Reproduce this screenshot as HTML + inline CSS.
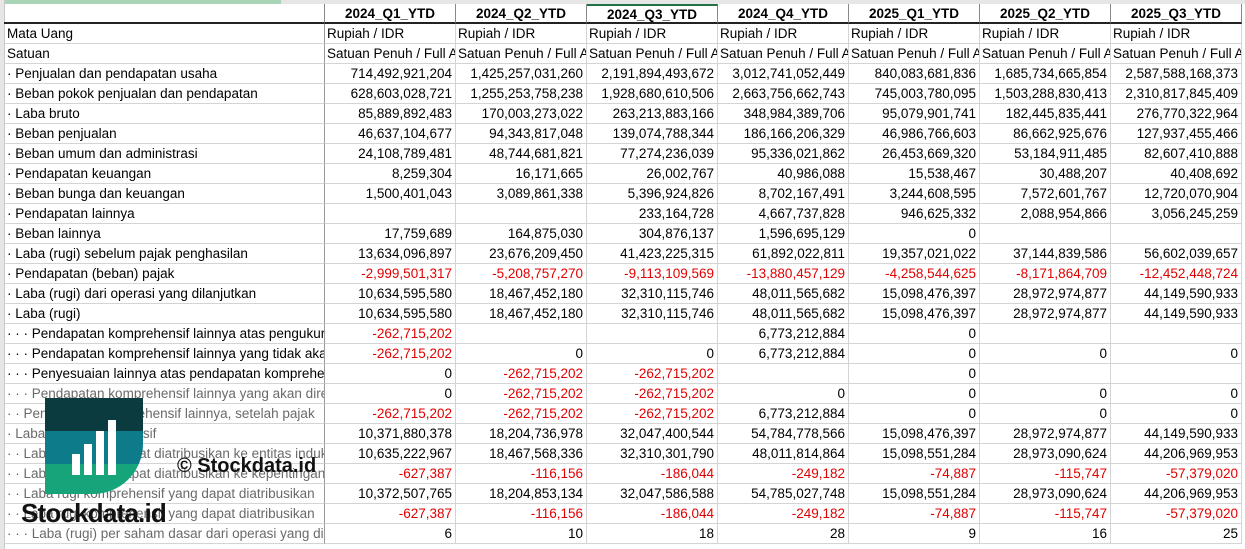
<!DOCTYPE html>
<html><head><meta charset="utf-8">
<style>
body{margin:0;width:1245px;height:549px;overflow:hidden;background:#fff;font-family:"Liberation Sans",Arial,sans-serif;font-size:13.5px;color:#000;position:relative}
.c{position:absolute;height:20px;line-height:20px;box-sizing:border-box;border-right:1px solid #d4d4d4;border-bottom:1px solid #d4d4d4;white-space:nowrap;overflow:hidden;padding:0 3px}
.n{text-align:right}
.neg{color:#e00000}
.h{font-weight:bold;text-align:center;border-right:1px solid #888;border-bottom:2px solid #222}
</style></head><body>
<div style="position:absolute;left:0;top:0;width:1245px;height:4px;background:#e6e6e6"></div>
<div style="position:absolute;left:0;top:0;width:281px;height:4px;background:#a9d5b6"></div>
<div style="position:absolute;left:0;top:0;width:4px;height:549px;background:#e6e6e6;border-right:1px solid #c8c8c8"></div>
<div id="grid"></div>
<div style="position:absolute;left:45px;top:398px;width:98px;height:96px;border-radius:0 0 50px 0;overflow:hidden">
<div style="height:33px;background:#0b3b3f"></div><div style="height:33px;background:#0d7b8a"></div><div style="height:30px;background:#16a57b"></div>
<div style="position:absolute;left:27px;top:56px;width:8px;height:21px;background:#fff"></div>
<div style="position:absolute;left:39px;top:46px;width:8px;height:31px;background:#fff"></div>
<div style="position:absolute;left:51px;top:33px;width:8px;height:44px;background:#fff"></div>
<div style="position:absolute;left:63px;top:22px;width:8px;height:55px;background:#fff"></div>
</div>
<div style="position:absolute;left:21px;top:498px;font-size:26px;font-weight:bold;letter-spacing:-0.8px;color:#111">Stockdata.id</div>
<div style="position:absolute;left:177px;top:455px;font-size:20px;font-weight:bold;color:#111">© Stockdata.id</div>
<script>
const cols=["2024_Q1_YTD","2024_Q2_YTD","2024_Q3_YTD","2024_Q4_YTD","2025_Q1_YTD","2025_Q2_YTD","2025_Q3_YTD"];
const rows=[
["Mata Uang",Array(7).fill("Rupiah / IDR"),"t"],
["Satuan",Array(7).fill("Satuan Penuh / Full Amount"),"t"],
["· Penjualan dan pendapatan usaha",["714,492,921,204","1,425,257,031,260","2,191,894,493,672","3,012,741,052,449","840,083,681,836","1,685,734,665,854","2,587,588,168,373"]],
["· Beban pokok penjualan dan pendapatan",["628,603,028,721","1,255,253,758,238","1,928,680,610,506","2,663,756,662,743","745,003,780,095","1,503,288,830,413","2,310,817,845,409"]],
["· Laba bruto",["85,889,892,483","170,003,273,022","263,213,883,166","348,984,389,706","95,079,901,741","182,445,835,441","276,770,322,964"]],
["· Beban penjualan",["46,637,104,677","94,343,817,048","139,074,788,344","186,166,206,329","46,986,766,603","86,662,925,676","127,937,455,466"]],
["· Beban umum dan administrasi",["24,108,789,481","48,744,681,821","77,274,236,039","95,336,021,862","26,453,669,320","53,184,911,485","82,607,410,888"]],
["· Pendapatan keuangan",["8,259,304","16,171,665","26,002,767","40,986,088","15,538,467","30,488,207","40,408,692"]],
["· Beban bunga dan keuangan",["1,500,401,043","3,089,861,338","5,396,924,826","8,702,167,491","3,244,608,595","7,572,601,767","12,720,070,904"]],
["· Pendapatan lainnya",["","","233,164,728","4,667,737,828","946,625,332","2,088,954,866","3,056,245,259"]],
["· Beban lainnya",["17,759,689","164,875,030","304,876,137","1,596,695,129","0","",""]],
["· Laba (rugi) sebelum pajak penghasilan",["13,634,096,897","23,676,209,450","41,423,225,315","61,892,022,811","19,357,021,022","37,144,839,586","56,602,039,657"]],
["· Pendapatan (beban) pajak",["-2,999,501,317","-5,208,757,270","-9,113,109,569","-13,880,457,129","-4,258,544,625","-8,171,864,709","-12,452,448,724"]],
["· Laba (rugi) dari operasi yang dilanjutkan",["10,634,595,580","18,467,452,180","32,310,115,746","48,011,565,682","15,098,476,397","28,972,974,877","44,149,590,933"]],
["· Laba (rugi)",["10,634,595,580","18,467,452,180","32,310,115,746","48,011,565,682","15,098,476,397","28,972,974,877","44,149,590,933"]],
["· · · Pendapatan komprehensif lainnya atas pengukuran kembali",["-262,715,202","","","6,773,212,884","0","",""]],
["· · · Pendapatan komprehensif lainnya yang tidak akan direklasifikasi",["-262,715,202","0","0","6,773,212,884","0","0","0"]],
["· · · Penyesuaian lainnya atas pendapatan komprehensif",["0","-262,715,202","-262,715,202","","0","",""]],
["· · · Pendapatan komprehensif lainnya yang akan direklasifikasi",["0","-262,715,202","-262,715,202","0","0","0","0"],"g"],
["· · Pendapatan komprehensif lainnya, setelah pajak",["-262,715,202","-262,715,202","-262,715,202","6,773,212,884","0","0","0"],"g"],
["· Laba rugi komprehensif",["10,371,880,378","18,204,736,978","32,047,400,544","54,784,778,566","15,098,476,397","28,972,974,877","44,149,590,933"],"g"],
["· · Laba rugi yang dapat diatribusikan ke entitas induk",["10,635,222,967","18,467,568,336","32,310,301,790","48,011,814,864","15,098,551,284","28,973,090,624","44,206,969,953"],"g"],
["· · Laba rugi yang dapat diatribusikan ke kepentingan",["-627,387","-116,156","-186,044","-249,182","-74,887","-115,747","-57,379,020"],"g"],
["· · Laba rugi komprehensif yang dapat diatribusikan",["10,372,507,765","18,204,853,134","32,047,586,588","54,785,027,748","15,098,551,284","28,973,090,624","44,206,969,953"],"g"],
["· · Laba rugi komprehensif yang dapat diatribusikan",["-627,387","-116,156","-186,044","-249,182","-74,887","-115,747","-57,379,020"],"g"],
["· · · Laba (rugi) per saham dasar dari operasi yang dilanjutkan",["6","10","18","28","9","16","25"],"g"]
];
const g=document.getElementById('grid');
function cell(x,y,w,txt,cls){const d=document.createElement('div');d.className='c '+cls;d.style.left=x+'px';d.style.top=y+'px';d.style.width=w+'px';d.textContent=txt;g.appendChild(d);return d;}
const L=4,LW=321,CW=131,top0=4;
let e=cell(L,top0,LW,'','h');e.style.borderRight='1px solid #888';


cols.forEach((c,i)=>{const d=cell(L+LW+i*CW,top0,CW,c,'h');


if(i==2){d.style.borderTop='2px solid #217346';d.style.lineHeight='17px';}});
rows.forEach((r,ri)=>{const y=top0+20+ri*20;
const lab=cell(L,y,LW,r[0],'');
lab.style.borderRight='1px solid #999';
if(r[2]=='g')lab.style.color='#6a6a6a';


r[1].forEach((v,ci)=>{const neg=v.startsWith('-');const d=cell(L+LW+ci*CW,y,CW,v,(r[2]=='t'?'':'n ')+(neg?'neg':''));
if(r[2]=='t'){d.style.textOverflow='clip';d.style.paddingLeft='2px';}

});});
</script>
</body></html>
